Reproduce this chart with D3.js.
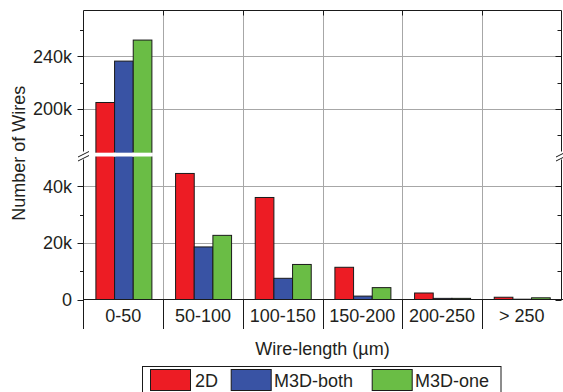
<!DOCTYPE html>
<html>
<head>
<meta charset="utf-8">
<script src="https://cdn.jsdelivr.net/npm/d3@7/dist/d3.min.js"></script>
<style>
  html, body { margin: 0; padding: 0; background: #fff; }
  svg { display: block; font-family: "Liberation Sans", Arial, sans-serif; }
</style>
</head>
<body>
<svg id="chart" width="563" height="392"></svg>
<script>
// ---- data ----
const categories = ["0-50", "50-100", "100-150", "150-200", "200-250", "> 250"];
const seriesNames = ["2D", "M3D-both", "M3D-one"];
const values2D = [205000, 44600, 36100, 11400, 2300, 800];
const valuesM3DBoth = [236500, 18600, 7500, 1200, 400, 100];
const valuesM3DOne = [252500, 22700, 12400, 4200, 400, 600];
const seriesColors = ["#ED1C24", "#3953A4", "#6ABD45"];
const lowerTickValues = [0, 20000, 40000];
const lowerTickLabels = ["0", "20k", "40k"];
const upperTickValues = [200000, 240000];
const upperTickLabels = ["200k", "240k"];
const lowerMinorTicks = [10000, 30000];
const upperMinorTicks = [180000, 220000, 260000];
const xTitle = "Wire-length (\u00B5m)";
const yTitle = "Number of Wires";

const seriesValues = [values2D, valuesM3DBoth, valuesM3DOne];

(function () {
// ---- layout ----
const pLeft = 83.5, pRight = 561.5, pTop = 10.5, pBottom = 299.5;
const lowMax = 50600, highMin = 166800, highMax = 275000;
const gapTop = 152.7, gapBottom = 156.5;

const svg = d3.select("#chart");
const textColor = "#231F20";

const x = d3.scaleBand().domain(categories).range([pLeft, pRight]).paddingInner(0).paddingOuter(0);
const xSub = d3.scaleBand().domain(seriesNames).range([12.4, 68.4]).padding(0);
const yLow = d3.scaleLinear().domain([0, lowMax]).range([pBottom, gapBottom]);
const yHigh = d3.scaleLinear().domain([highMin, highMax]).range([gapTop, pTop]);
const yVal = v => v <= lowMax ? yLow(v) : yHigh(v);

// ---- grid ----
const grid = svg.append("g").attr("stroke", "#A7A7A7").attr("stroke-width", 1);
lowerTickValues.filter(v => v > 0).forEach(v => {
  grid.append("line").attr("x1", pLeft).attr("x2", pRight)
    .attr("y1", Math.round(yLow(v)) + 0.5).attr("y2", Math.round(yLow(v)) + 0.5);
});
upperTickValues.forEach(v => {
  grid.append("line").attr("x1", pLeft).attr("x2", pRight)
    .attr("y1", Math.round(yHigh(v)) + 0.5).attr("y2", Math.round(yHigh(v)) + 0.5);
});
categories.slice(1).forEach(c => {
  const xx = Math.round(x(c)) + 0.5;
  grid.append("line").attr("x1", xx).attr("x2", xx).attr("y1", pTop).attr("y2", pBottom);
});

// ---- bars ----
const barsG = svg.append("g");
categories.forEach((c, i) => {
  seriesNames.forEach((s, j) => {
    const v = seriesValues[j][i];
    const bx = x(c) + xSub(s);
    const by = yVal(v);
    barsG.append("rect")
      .attr("x", bx).attr("y", by)
      .attr("width", xSub.bandwidth()).attr("height", Math.max(0, pBottom - by))
      .attr("fill", seriesColors[j]).attr("stroke", "#1A1A1A").attr("stroke-width", 1);
  });
});
// white break band across bars that cross the gap
categories.forEach((c, i) => {
  seriesNames.forEach((s, j) => {
    const v = seriesValues[j][i];
    if (v > lowMax) {
      barsG.append("rect")
        .attr("x", x(c) + xSub(s) - 1).attr("y", gapTop)
        .attr("width", xSub.bandwidth() + 2).attr("height", gapBottom - gapTop)
        .attr("fill", "#fff");
    }
  });
});

// ---- frame / axes ----
const axisG = svg.append("g").attr("stroke", "#1A1A1A").attr("stroke-width", 1).attr("fill", "none");
axisG.append("line").attr("x1", pLeft).attr("x2", pRight).attr("y1", pTop).attr("y2", pTop);
axisG.append("line").attr("x1", pLeft).attr("x2", 563).attr("y1", pBottom).attr("y2", pBottom);
axisG.append("line").attr("x1", pLeft).attr("x2", pLeft).attr("y1", pTop).attr("y2", 151.5);
axisG.append("line").attr("x1", pLeft).attr("x2", pLeft).attr("y1", 159.5).attr("y2", 329);
axisG.append("line").attr("x1", pRight).attr("x2", pRight).attr("y1", pTop).attr("y2", 151.5);
axisG.append("line").attr("x1", pRight).attr("x2", pRight).attr("y1", 159.5).attr("y2", pBottom);
[pLeft, pRight].forEach(ax => {
  axisG.append("line").attr("x1", ax - 5.5).attr("y1", 157).attr("x2", ax + 5.5).attr("y2", 151.5);
  axisG.append("line").attr("x1", ax - 5.5).attr("y1", 161).attr("x2", ax + 5.5).attr("y2", 155.5);
});
categories.slice(1).forEach(c => {
  const xx = Math.round(x(c)) + 0.5;
  axisG.append("line").attr("x1", xx).attr("x2", xx).attr("y1", pBottom).attr("y2", 329);
  axisG.append("line").attr("x1", xx).attr("x2", xx).attr("y1", pTop).attr("y2", pTop + 5);
});

function drawTicks(scale, vals, len, rlen) {
  vals.forEach(v => {
    const yy = Math.round(scale(v)) + 0.5;
    axisG.append("line").attr("x1", pLeft - len).attr("x2", pLeft).attr("y1", yy).attr("y2", yy);
    axisG.append("line").attr("x1", pRight - rlen).attr("x2", pRight).attr("y1", yy).attr("y2", yy);
  });
}
drawTicks(yLow, lowerTickValues, 6, 6);
drawTicks(yHigh, upperTickValues, 6, 6);
drawTicks(yLow, lowerMinorTicks, 3.5, 4);
drawTicks(yHigh, upperMinorTicks, 3.5, 4);

function labelAxis(scale, vals, labels) {
  const ax = d3.axisLeft(scale).tickValues(vals)
    .tickFormat((d, i) => labels[i]).tickSize(0).tickPadding(11.5);
  const g = svg.append("g").attr("transform", `translate(${pLeft},0)`).call(ax);
  g.select(".domain").remove();
  g.selectAll("text").attr("font-size", 18).attr("fill", textColor)
    .attr("font-family", "'Liberation Sans', Arial, sans-serif");
}
labelAxis(yLow, lowerTickValues, lowerTickLabels);
labelAxis(yHigh, upperTickValues, upperTickLabels);

const xAxis = d3.axisBottom(x).tickSize(0).tickPadding(0);
const xg = svg.append("g").attr("transform", `translate(0,${pBottom})`).call(xAxis);
xg.select(".domain").remove();
xg.selectAll("text").attr("font-size", 18).attr("fill", textColor)
  .attr("font-family", "'Liberation Sans', Arial, sans-serif")
  .attr("dy", null).attr("y", 22);

svg.append("text").attr("x", (pLeft + pRight) / 2).attr("y", 355)
  .attr("text-anchor", "middle").attr("font-size", 18).attr("fill", textColor).text(xTitle);
svg.append("text").attr("transform", "translate(25,153.3) rotate(-90)")
  .attr("text-anchor", "middle").attr("font-size", 18).attr("fill", textColor).text(yTitle);

// ---- legend ----
const lg = svg.append("g");
lg.append("rect").attr("x", 142.5).attr("y", 366.5).attr("width", 358.5).attr("height", 40)
  .attr("fill", "#fff").attr("stroke", "#1A1A1A").attr("stroke-width", 1);
const swatchX = [150, 230.7, 371.7];
const labelX = [195, 274, 415];
seriesNames.forEach((s, j) => {
  lg.append("rect").attr("x", swatchX[j] + 0.5).attr("y", 369.5).attr("width", 40).attr("height", 21)
    .attr("fill", seriesColors[j]).attr("stroke", "#1A1A1A").attr("stroke-width", 1);
  lg.append("text").attr("x", labelX[j]).attr("y", 386.5).attr("font-size", 18)
    .attr("fill", textColor).text(s);
});
})();
</script>
</body>
</html>
